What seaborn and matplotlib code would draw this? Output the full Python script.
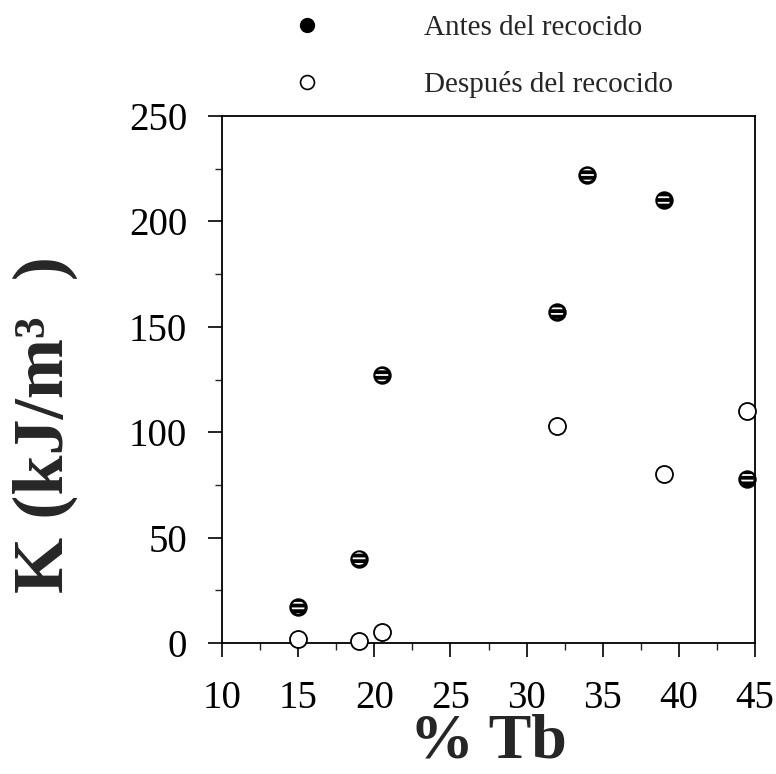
import matplotlib
matplotlib.use("Agg")
import matplotlib.pyplot as plt
import seaborn as sns
import pandas as pd
from matplotlib.ticker import MultipleLocator
from matplotlib.lines import Line2D

# Data
tb_antes = [15, 19, 20.5, 32, 34, 39, 44.5]
k_antes = [17, 40, 127, 157, 222, 210, 78]
tb_despues = [15, 19, 20.5, 32, 39, 44.5]
k_despues = [2, 1, 5, 103, 80, 110]
labels = ["Antes del recocido", "Después del recocido"]
x_ticks = [10, 15, 20, 25, 30, 35, 40, 45]
y_ticks = [0, 50, 100, 150, 200, 250]

df_a = pd.DataFrame({"Tb": tb_antes, "K": k_antes})
df_d = pd.DataFrame({"Tb": tb_despues, "K": k_despues})

sns.set_style("white")
plt.rcParams["font.family"] = ["Liberation Serif", "DejaVu Serif"]
plt.rcParams["hatch.color"] = "white"
plt.rcParams["hatch.linewidth"] = 1.3

fig = plt.figure(figsize=(7.76, 7.74), dpi=100)
ax = fig.add_axes([222 / 776, 1 - 643 / 774, (755 - 222) / 776, (643 - 116) / 774])

sns.scatterplot(data=df_a, x="Tb", y="K", ax=ax, s=150, color="black",
                edgecolor="black", linewidth=1, clip_on=False, zorder=3)
# white streaks on the filled markers
sns.scatterplot(data=df_a, x="Tb", y="K", ax=ax, s=85, facecolor="none",
                edgecolor="white", linewidth=0, hatch="---", clip_on=False, zorder=4)
sns.scatterplot(data=df_d, x="Tb", y="K", ax=ax, s=150, facecolor="white",
                edgecolor="black", linewidth=1.3, clip_on=False, zorder=3)

ax.set_xlim(10, 45)
ax.set_ylim(0, 250)
ax.set_xticks(x_ticks)
ax.set_yticks(y_ticks)
ax.xaxis.set_minor_locator(MultipleLocator(2.5))
ax.yaxis.set_minor_locator(MultipleLocator(25))
ax.tick_params(axis="both", which="major", direction="out", length=10, width=1.2,
               labelsize=28, colors="black")
ax.tick_params(axis="x", which="major", pad=17)
ax.tick_params(axis="y", which="major", pad=15)
ax.tick_params(axis="both", which="minor", direction="out", length=5, width=1.0)
ax.tick_params(bottom=True, left=True, which="both")
for sp in ax.spines.values():
    sp.set_visible(True)
    sp.set_color("black")
    sp.set_linewidth(1.3)

ax.set_xlabel("% Tb", fontsize=46, fontweight="bold", labelpad=-3)
ax.set_ylabel("K (kJ/m³  )", fontsize=52, fontweight="bold")
ax.yaxis.set_label_coords((78 - 222) / 533, (643 - 425) / 527)

handles = [
    Line2D([], [], marker="o", linestyle="none", markersize=10, markerfacecolor="black",
           markeredgecolor="black"),
    Line2D([], [], marker="o", linestyle="none", markersize=10, markerfacecolor="white",
           markeredgecolor="black", markeredgewidth=1.2),
]
fig.legend(handles, labels, loc="upper left", bbox_to_anchor=(278 / 776, 1 - 15 / 774),
           frameon=False, fontsize=21, handlelength=2, handletextpad=3.0,
           labelspacing=1.03, borderpad=0, borderaxespad=0)

fig.savefig("out.png", dpi=100)
